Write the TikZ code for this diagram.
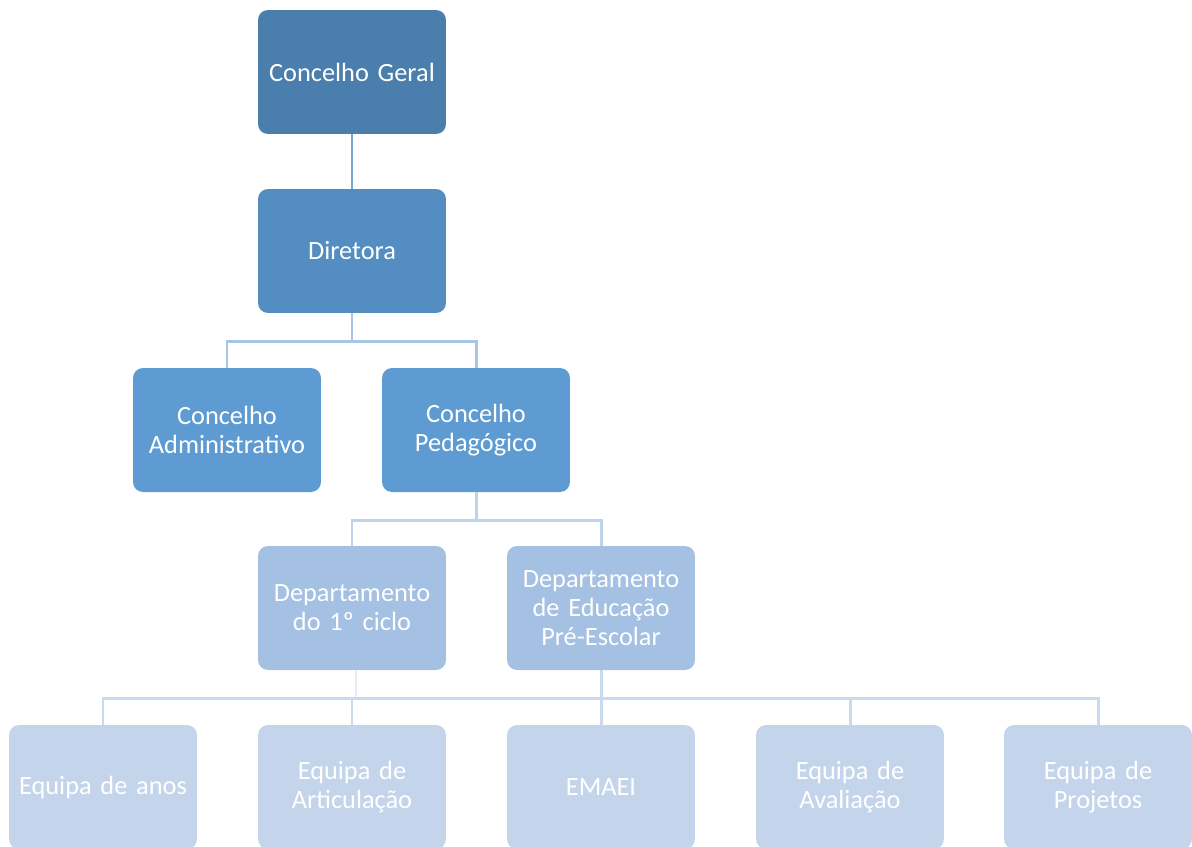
\documentclass[tikz,border=0pt]{standalone}
\usepackage{fontspec}
\setmainfont{Carlito}
\definecolor{c1}{RGB}{74,126,173}
\definecolor{c2}{RGB}{83,141,194}
\definecolor{c3}{RGB}{95,155,211}
\definecolor{c4}{RGB}{164,192,227}
\definecolor{c5}{RGB}{196,213,235}
\definecolor{l1}{RGB}{120,165,215}
\definecolor{l2}{RGB}{168,196,230}
\definecolor{l3}{RGB}{190,211,236}
\definecolor{l4}{RGB}{201,217,238}
\definecolor{l4b}{RGB}{228,236,246}
\begin{document}
\begin{tikzpicture}[x=0.02cm,y=-0.02cm,
  box/.style={rounded corners=0.2cm, minimum width=3.76cm, minimum height=2.48cm,
    text width=3.5cm, align=center, inner sep=0pt, text=white,
    font=\fontsize{15pt}{16.4pt}\selectfont},
  conn/.style={line width=1.7pt}]
\useasboundingbox (0,0) rectangle (1192,846);
\clip (0,0) rectangle (1192,846);
% connectors
\node[box, fill=c1] (cg) at (352,72) {Concelho Geral};
\node[box, fill=c2] (dir) at (352,251) {Diretora};
\node[box, fill=c3] (ca) at (227,430) {Concelho\\Administrativo};
\node[box, fill=c3] (cp) at (476,430) {Concelho\\Pedagógico};
\node[box, fill=c4] (d1) at (352,608) {Departamento\\do 1º ciclo};
\node[box, fill=c4] (dp) at (601,608) {Departamento\\de Educação\\Pré-Escolar};
\node[box, fill=c5] (e1) at (103,787) {Equipa de anos};
\node[box, fill=c5] (e2) at (352,787) {Equipa de\\Articulação};
\node[box, fill=c5] (e3) at (601,787) {EMAEI};
\node[box, fill=c5] (e4) at (850,787) {Equipa de\\Avaliação};
\node[box, fill=c5] (e5) at (1098,787) {Equipa de\\Projetos};
\draw[conn, l1] (cg.south) -- (dir.north);
\draw[conn, l2] (dir.south) -- ++(0,28) -| (ca.north);
\draw[conn, l2] (dir.south) -- ++(0,28) -| (cp.north);
\draw[conn, l3] (cp.south) -- ++(0,28) -| (d1.north);
\draw[conn, l3] (cp.south) -- ++(0,28) -| (dp.north);
\draw[conn, l4b] (d1.south) ++(4,0) -- ++(0,28);
\draw[conn, l4] (dp.south) -- ++(0,28) -| (e1.north);
\draw[conn, l4] (dp.south) -- ++(0,28) -| (e2.north);
\draw[conn, l4] (dp.south) -- (e3.north);
\draw[conn, l4] (dp.south) -- ++(0,28) -| (e4.north);
\draw[conn, l4] (dp.south) -- ++(0,28) -| (e5.north);
\end{tikzpicture}
\end{document}
